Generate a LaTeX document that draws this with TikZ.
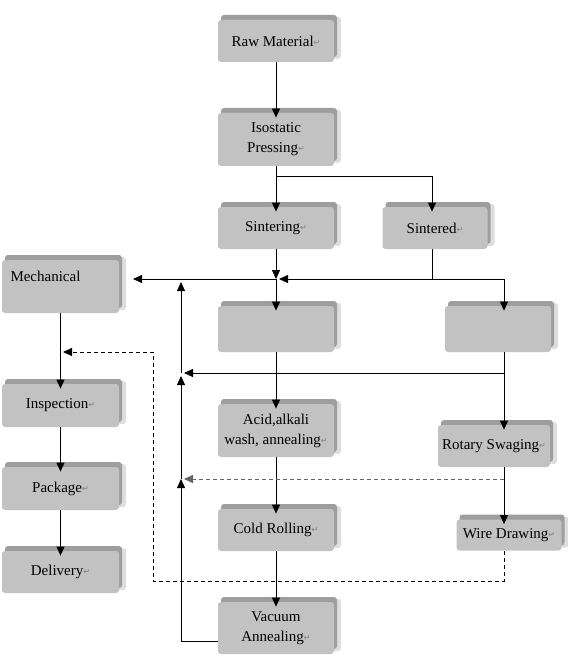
\documentclass[tikz,border=0pt]{standalone}
\usepackage{fontspec}
\setmainfont{Liberation Serif}
\newfontfamily\markfont{DejaVu Sans}
\usetikzlibrary{arrows.meta,shadows}
\definecolor{boxface}{RGB}{194,194,194}
\definecolor{boxtop}{RGB}{158,158,158}
\definecolor{boxside}{RGB}{222,222,222}
\definecolor{dashgray}{RGB}{100,100,100}
\newcommand{\retmark}{{\markfont\fontsize{8}{8}\selectfont\color{gray}\raisebox{0.2ex}{↵}}}

\begin{document}
\begin{tikzpicture}[x=1pt,y=-1pt,line width=0.8pt,
        >={Triangle[length=9pt,width=8pt]},
        stepbox/.style={fill=boxface,rounded corners=3pt,inner sep=2pt,align=center,
            font=\fontsize{15}{20}\selectfont,minimum width=116pt,minimum height=42pt,
            general shadow={fill=boxside,shadow xshift=7pt,shadow yshift=3pt},
            general shadow={fill=boxtop,shadow xshift=3pt,shadow yshift=5pt}},
        tallbox/.style={stepbox,minimum height=53pt},
        intop/.style={->,shorten >=-5pt},
        loopline/.style={dashed,dash pattern=on 4pt off 3pt}]
        \useasboundingbox (0,0) rectangle (567,655);
        % main column
        \node [stepbox] (raw) at (276,41) {Raw Material\retmark};
        \node [tallbox] (iso) at (276,139.5) {Isostatic\\Pressing\retmark};
        \node [stepbox] (sinter) at (276,228) {Sintering\retmark};
        \node [stepbox,minimum width=105pt] (sintered) at (435,228) {Sintered\retmark};
        \node [tallbox,minimum width=117pt,align=left,text width=100pt] (mech) at (60.5,286.5) {Mechanical\\\mbox{}};
        \node [stepbox,minimum height=46pt] (hidc) at (276,329) {};
        \node [stepbox,minimum width=106pt,minimum height=46pt] (hidr) at (498,329) {};
        \node [tallbox] (acid) at (276,430.5) {Acid,alkali\\wash, annealing\retmark};
        \node [stepbox] (cold) at (276,530) {Cold Rolling\retmark};
        \node [tallbox,minimum height=52pt] (vac) at (276,628) {Vacuum\\Annealing\retmark};
        % right column
        \node [stepbox,minimum width=112pt] (rotary) at (494,446) {Rotary Swaging\retmark};
        \node [stepbox,minimum width=105pt,minimum height=31pt] (wire) at (509,535) {Wire Drawing\retmark};
        % left column
        \node [stepbox,minimum width=117pt,minimum height=43pt] (insp) at (60.5,405.5) {Inspection\retmark};
        \node [stepbox,minimum width=117pt,minimum height=43pt] (pack) at (60.5,488.5) {Package\retmark};
        \node [stepbox,minimum width=117pt] (deliv) at (60.5,572) {Delivery\retmark};
        % bends
        \coordinate (split) at (276,176);
        \coordinate (sbend) at (432,176);
        \coordinate (join) at (276,279);
        \coordinate (scorner) at (432,279);
        \coordinate (rcorner) at (504,279);
        \coordinate (mechtip) at (133,279);
        \coordinate (fbtop) at (181,279);
        \coordinate (fbmid) at (181,373);
        \coordinate (fblow) at (181,479);
        \coordinate (rsplit) at (504,373);
        \coordinate (dsplit) at (504,479);
        \coordinate (dbend) at (504,581);
        \coordinate (dleft) at (153,581);
        \coordinate (dtop) at (153,352);
        \coordinate (dtip) at (63,352);
        \draw [intop] (raw) -- (iso);
        \draw [intop] (iso) -- (sinter);
        \draw [intop] (split) -| (sintered.north -| sbend);
        \draw [->] (sinter) -- (join);
        \draw (sintered.south -| sbend) -- (scorner);
        \draw [->] (rcorner) -- ([xshift=3pt]join);
        \draw [intop] (rcorner) -- (hidr.north -| rcorner);
        \draw [->] (join) -- (mechtip);
        \draw [intop] (join) -- (hidc);
        \draw [intop] (hidc) -- (acid);
        \draw [intop] (acid) -- (cold);
        \draw [intop] (cold) -- (vac);
        \draw [intop] (hidr.south -| rsplit) -- (rotary.north -| rsplit);
        \draw [intop] (rotary.south -| rsplit) -- (wire.north -| rsplit);
        \draw [->] (rsplit) -- ([xshift=3pt]fbmid);
        \draw [->,loopline,dashgray] (dsplit) -- ([xshift=3pt]fblow);
        \draw [->] ([yshift=-13pt]vac.west) -| (fblow);
        \draw [->] (fblow) -- ([yshift=-3pt]fbmid);
        \draw [->] (fbmid) -- ([yshift=-3pt]fbtop);
        \draw [->,loopline] (wire.south -| dbend) -- (dbend) -- (dleft) -- (dtop) -- (dtip);
        \draw [intop] (mech) -- (insp);
        \draw [intop] (insp) -- (pack);
        \draw [intop] (pack) -- (deliv);
    \end{tikzpicture}
\end{document}
